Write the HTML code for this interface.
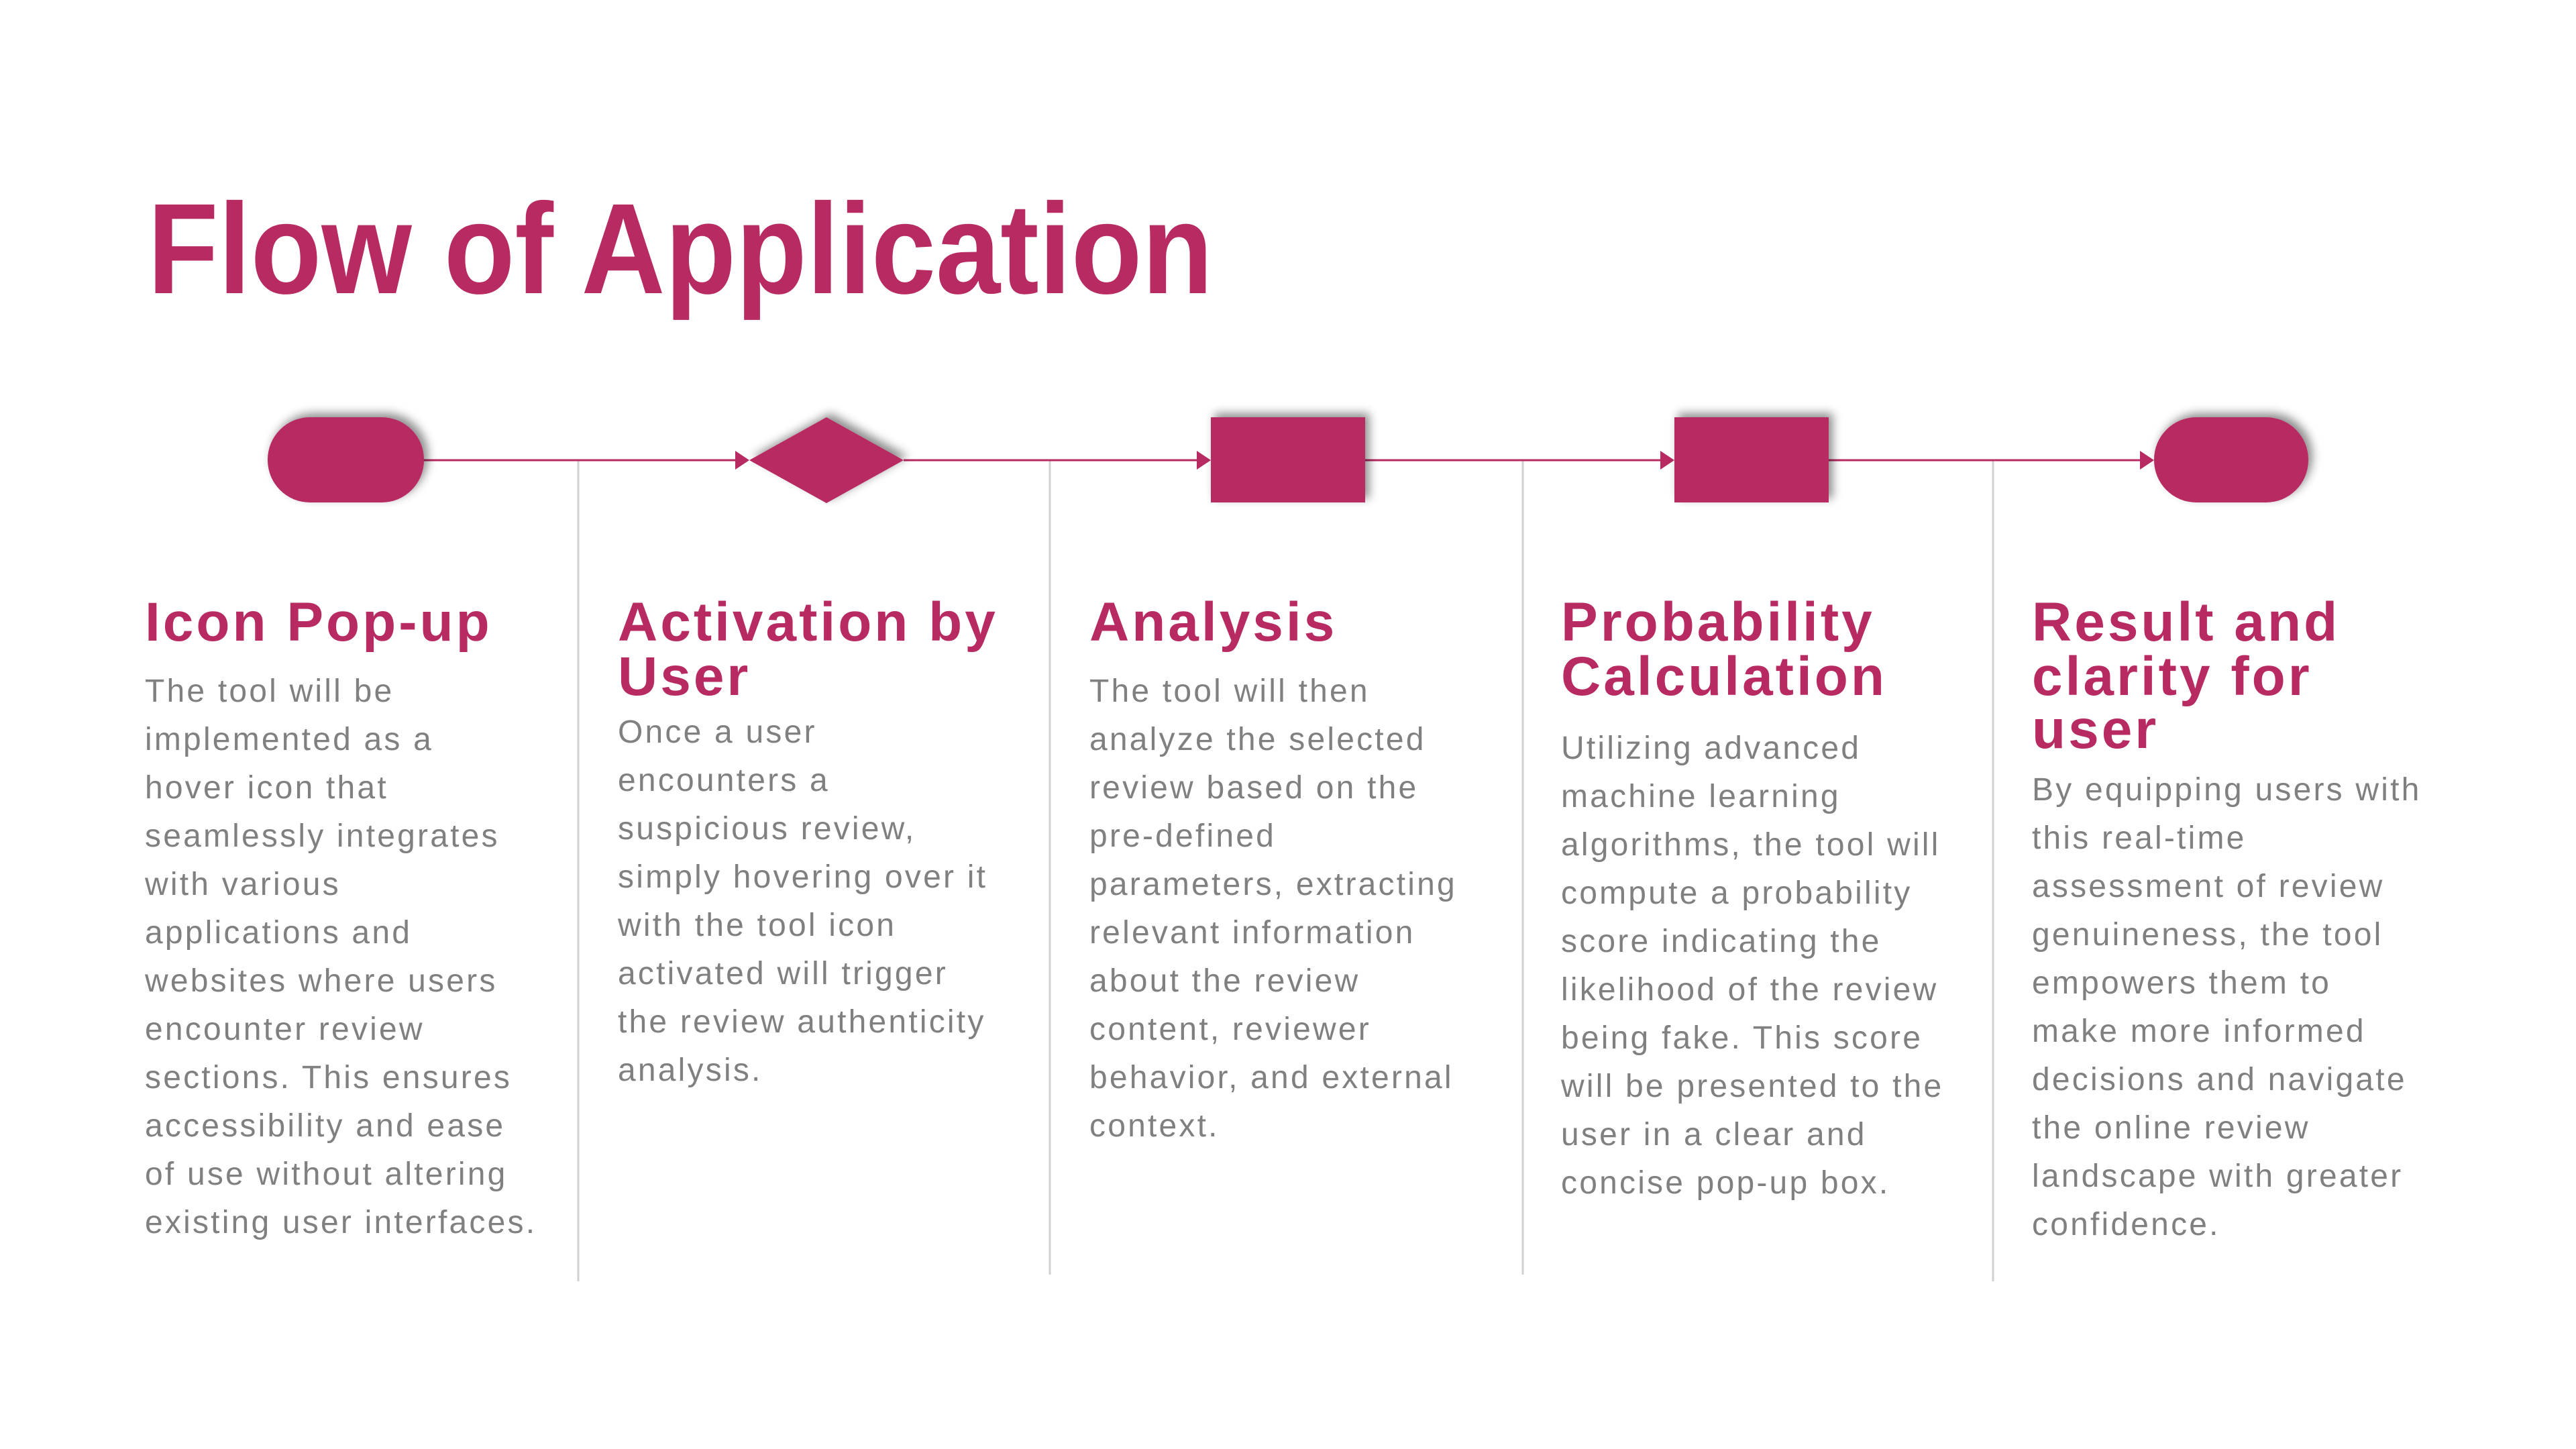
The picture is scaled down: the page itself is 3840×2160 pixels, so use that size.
<!DOCTYPE html>
<html><head><meta charset="utf-8"><style>
html,body{margin:0;padding:0;background:#fff;}
svg{display:block;}
.h{font-family:"Liberation Sans",sans-serif;font-weight:bold;font-size:82px;fill:#B82A62;letter-spacing:4px;}
.b{font-family:"Liberation Sans",sans-serif;font-size:48px;fill:#808080;letter-spacing:3.2px;}
</style></head><body>
<svg width="3840" height="2160" viewBox="0 0 3840 2160" xmlns="http://www.w3.org/2000/svg">
<defs>
<filter id="sh" x="-30%" y="-50%" width="160%" height="200%">
<feDropShadow dx="6" dy="-6" stdDeviation="7" flood-color="#000" flood-opacity="0.45"/>
</filter>
</defs>
<text x="220" y="437" font-family="Liberation Sans, sans-serif" font-weight="bold" font-size="192" fill="#B82A62" textLength="1588" lengthAdjust="spacingAndGlyphs">Flow of Application</text>

<g stroke="#d0d0d0" stroke-width="3">
<line x1="862" y1="686" x2="862" y2="1910"/>
<line x1="1565" y1="686" x2="1565" y2="1900"/>
<line x1="2270" y1="686" x2="2270" y2="1900"/>
<line x1="2971" y1="686" x2="2971" y2="1910"/>
</g>
<g stroke="#B82A62" stroke-width="3" fill="none">
<line x1="632" y1="686" x2="1105" y2="686"/>
<line x1="1347" y1="686" x2="1800" y2="686"/>
<line x1="2035" y1="686" x2="2492" y2="686"/>
<line x1="2726" y1="686" x2="3207" y2="686"/>
</g>
<g fill="#B82A62">
<path d="M1096,672 L1117,686 L1096,700 z"/>
<path d="M1784,672 L1805,686 L1784,700 z"/>
<path d="M2475,672 L2496,686 L2475,700 z"/>
<path d="M3190,672 L3211,686 L3190,700 z"/>
</g>
<g fill="#B82A62" filter="url(#sh)">
<rect x="399" y="622" width="233" height="127" rx="63" ry="63"/>
<path d="M1117,686 L1232,622 L1347,686 L1232,750 z"/>
<rect x="1805" y="622" width="230" height="127"/>
<rect x="2496" y="622" width="230" height="127"/>
<rect x="3211" y="622" width="230" height="127" rx="63" ry="63"/>
</g>

<text class="h" x="216" y="955">Icon Pop-up</text>
<g class="b">
<text x="216" y="1046">The tool will be</text>
<text x="216" y="1118">implemented as a</text>
<text x="216" y="1190">hover icon that</text>
<text x="216" y="1262">seamlessly integrates</text>
<text x="216" y="1334">with various</text>
<text x="216" y="1406">applications and</text>
<text x="216" y="1478">websites where users</text>
<text x="216" y="1550">encounter review</text>
<text x="216" y="1622">sections. This ensures</text>
<text x="216" y="1694">accessibility and ease</text>
<text x="216" y="1766">of use without altering</text>
<text x="216" y="1838">existing user interfaces.</text>
</g>

<text class="h" x="921" y="955">Activation by</text>
<text class="h" x="921" y="1036">User</text>
<g class="b">
<text x="921" y="1107">Once a user</text>
<text x="921" y="1179">encounters a</text>
<text x="921" y="1251">suspicious review,</text>
<text x="921" y="1323">simply hovering over it</text>
<text x="921" y="1395">with the tool icon</text>
<text x="921" y="1467">activated will trigger</text>
<text x="921" y="1539">the review authenticity</text>
<text x="921" y="1611">analysis.</text>
</g>

<text class="h" x="1624" y="955">Analysis</text>
<g class="b">
<text x="1624" y="1046">The tool will then</text>
<text x="1624" y="1118">analyze the selected</text>
<text x="1624" y="1190">review based on the</text>
<text x="1624" y="1262">pre-defined</text>
<text x="1624" y="1334">parameters, extracting</text>
<text x="1624" y="1406">relevant information</text>
<text x="1624" y="1478">about the review</text>
<text x="1624" y="1550">content, reviewer</text>
<text x="1624" y="1622">behavior, and external</text>
<text x="1624" y="1694">context.</text>
</g>

<text class="h" x="2327" y="955">Probability</text>
<text class="h" x="2327" y="1036">Calculation</text>
<g class="b">
<text x="2327" y="1131">Utilizing advanced</text>
<text x="2327" y="1203">machine learning</text>
<text x="2327" y="1275">algorithms, the tool will</text>
<text x="2327" y="1347">compute a probability</text>
<text x="2327" y="1419">score indicating the</text>
<text x="2327" y="1491">likelihood of the review</text>
<text x="2327" y="1563">being fake. This score</text>
<text x="2327" y="1635">will be presented to the</text>
<text x="2327" y="1707">user in a clear and</text>
<text x="2327" y="1779">concise pop-up box.</text>
</g>

<text class="h" x="3029" y="955">Result and</text>
<text class="h" x="3029" y="1036">clarity for</text>
<text class="h" x="3029" y="1115">user</text>
<g class="b">
<text x="3029" y="1193">By equipping users with</text>
<text x="3029" y="1265">this real-time</text>
<text x="3029" y="1337">assessment of review</text>
<text x="3029" y="1409">genuineness, the tool</text>
<text x="3029" y="1481">empowers them to</text>
<text x="3029" y="1553">make more informed</text>
<text x="3029" y="1625">decisions and navigate</text>
<text x="3029" y="1697">the online review</text>
<text x="3029" y="1769">landscape with greater</text>
<text x="3029" y="1841">confidence.</text>
</g>
</svg>
</body></html>
